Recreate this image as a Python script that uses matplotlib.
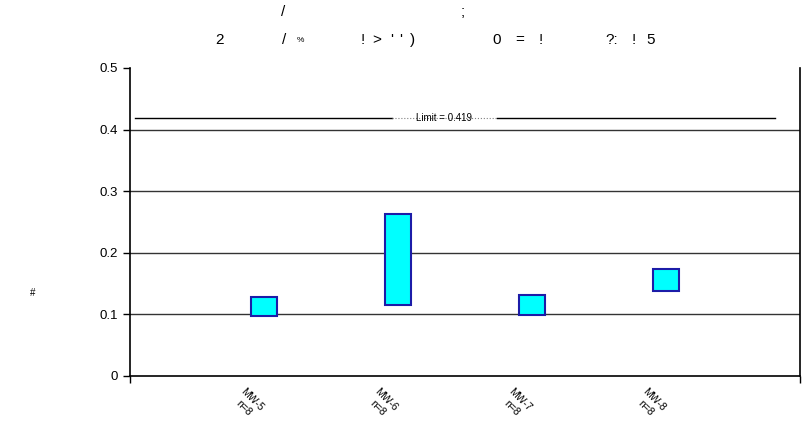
import matplotlib
matplotlib.use("Agg")
import matplotlib.pyplot as plt
from matplotlib.patches import Rectangle

# Data
wells = ["MW-5", "MW-6", "MW-7", "MW-8"]
counts = [8, 8, 8, 8]
low = [0.097, 0.115, 0.099, 0.138]
high = [0.128, 0.263, 0.131, 0.174]
limit = 0.419

fig = plt.figure(figsize=(8.1, 4.21), dpi=100)
ax = fig.add_axes([130 / 810, 1 - 376 / 421, 670 / 810, 308 / 421])

pos = list(range(1, len(wells) + 1))
w = 0.19
for x, lo, hi in zip(pos, low, high):
    ax.add_patch(Rectangle((x - w / 2, lo), w, hi - lo, facecolor="#00ffff",
                           edgecolor="#1c1ca8", linewidth=1.5, zorder=3))

# limit line with label
ax.plot([0.04, 1.955], [limit, limit], color="black", lw=1, zorder=2)
ax.plot([1.955, 2.74], [limit, limit], color="gray", lw=0.8, ls=":", zorder=2)
ax.plot([2.74, 4.81], [limit, limit], color="black", lw=1, zorder=2)
ax.text(2.34, limit, "Limit = %.3f" % limit, fontsize=7, ha="center",
        va="center", zorder=4, family="Liberation Sans")

ax.set_xlim(0, 5)
ax.set_ylim(0, 0.5)
ax.set_yticks([0, 0.1, 0.2, 0.3, 0.4, 0.5])
ax.set_yticklabels(["0", "0.1", "0.2", "0.3", "0.4", "0.5"],
                   fontsize=9.5, family="Liberation Sans")
ax.set_xticks([0, 5])
ax.set_xticklabels(["", ""])
ax.tick_params(axis="both", direction="out", length=5, width=1)
for yv in [0.1, 0.2, 0.3, 0.4]:
    ax.axhline(yv, color="#333333", lw=1, zorder=1)
ax.spines["top"].set_visible(False)
for s in ["left", "right", "bottom"]:
    ax.spines[s].set_linewidth(1.2)

for x, name, n in zip(pos, wells, counts):
    ax.text(x - 0.12, -0.045, "%s\nn=%d" % (name, n), rotation=-45,
            ha="center", va="center", fontsize=7.5, linespacing=1.25,
            family="Liberation Sans", transform=ax.transData)

ax.text(-0.73, 0.135, "#", fontsize=7, ha="center",
        va="center", family="Liberation Sans")

# title glyphs (reference shows unrendered symbols)
line1 = [("/", 283), (";", 463)]
line2 = [("2", 220), ("/", 284), ("%", 300), ("!", 363), (">", 377),
         ("'", 392), ("'", 401), (")", 413), ("0", 497), ("=", 520),
         ("!", 541), ("?:", 612), ("!", 634), ("5", 651)]
for ch, px in line1:
    fig.text(px / 810, 1 - 12 / 421, ch, fontsize=11, ha="center",
             va="center", family="Liberation Sans")
for ch, px in line2:
    fig.text(px / 810, 1 - 40 / 421, ch, fontsize=6 if ch == "%" else 11,
             ha="center", va="center", family="Liberation Sans")

fig.savefig("out.png", dpi=100)
